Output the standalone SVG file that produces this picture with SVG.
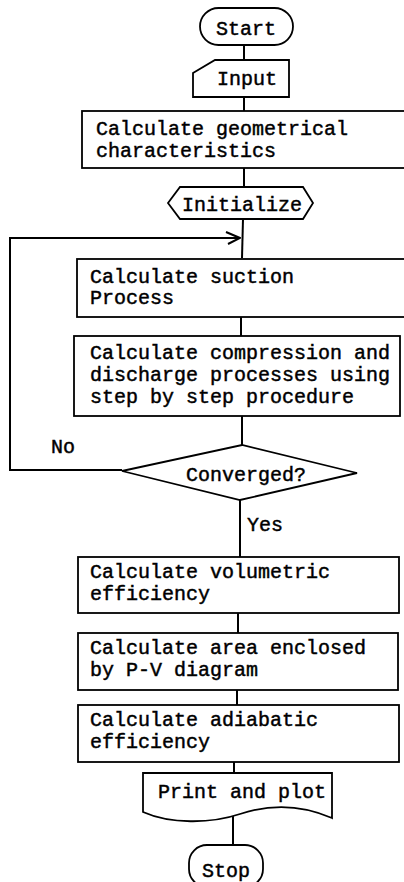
<svg xmlns="http://www.w3.org/2000/svg" width="404" height="882" viewBox="0 0 404 882">
<style>
.shape{fill:#fff;stroke:#000;stroke-width:1.8}
.line{fill:none;stroke:#000;stroke-width:2}
text{font-family:"Liberation Mono","DejaVu Sans Mono",monospace;font-size:20px;fill:#000;stroke:#000;stroke-width:0.45}
.c{text-anchor:middle}
</style>
<defs>
<marker id="open" viewBox="0 0 16 14" refX="15" refY="7" markerWidth="16" markerHeight="14" markerUnits="userSpaceOnUse" orient="auto">
<path d="M1,1 L15,7 L3,13" fill="none" stroke="#000" stroke-width="2"/>
</marker>
</defs>
<rect width="404" height="882" fill="#fff"/>
<g id="connectors">
<line class="line" x1="244" y1="45" x2="244" y2="60"/>
<line class="line" x1="244" y1="97" x2="244" y2="111"/>
<line class="line" x1="244" y1="168" x2="244" y2="187"/>
<line class="line" x1="243" y1="219" x2="242" y2="258"/>
<line class="line" x1="241" y1="317" x2="241" y2="336"/>
<line class="line" x1="242" y1="416" x2="242" y2="445"/>
<line class="line" x1="240" y1="500" x2="240" y2="557"/>
<line class="line" x1="238" y1="613" x2="238" y2="633"/>
<line class="line" x1="237" y1="690" x2="237" y2="705"/>
<line class="line" x1="234" y1="762" x2="234" y2="773"/>
<line class="line" x1="233" y1="815" x2="233" y2="845"/>
<polyline class="line" points="122,470 10,470 10,238 240,238" marker-end="url(#open)"/>
<text x="51" y="453">No</text>
<text x="247" y="531">Yes</text>
</g>
<g id="start">
<rect class="shape" x="200" y="8" width="93" height="37" rx="18.5"/>
<text class="c" x="246" y="35">Start</text>
</g>
<g id="input">
<path class="shape" d="M215,60 L289,60 L289,97 L193,97 L193,73 Z"/>
<text class="c" x="247" y="85">Input</text>
</g>
<g id="geom">
<rect class="shape" x="82" y="111" width="330" height="57"/>
<text x="96" y="135">Calculate geometrical</text>
<text x="96" y="157">characteristics</text>
</g>
<g id="initialize">
<path class="shape" d="M168,203 L180,187 L303,187 L313,203 L303,219 L180,219 Z"/>
<text class="c" x="242" y="211">Initialize</text>
</g>
<g id="suction">
<rect class="shape" x="77" y="259" width="335" height="58"/>
<text x="90" y="283">Calculate suction</text>
<text x="90" y="304">Process</text>
</g>
<g id="compression">
<rect class="shape" x="74" y="336" width="326" height="80"/>
<text x="90" y="359">Calculate compression and</text>
<text x="90" y="381">discharge processes using</text>
<text x="90" y="403">step by step procedure</text>
</g>
<g id="converged">
<path class="shape" d="M122,471 L242,445 L357,473 L240,500 Z"/>
<text class="c" x="246" y="481">Converged?</text>
</g>
<g id="volumetric">
<rect class="shape" x="78" y="557" width="321" height="56"/>
<text x="90" y="578">Calculate volumetric</text>
<text x="90" y="600">efficiency</text>
</g>
<g id="area">
<rect class="shape" x="78" y="633" width="320" height="57"/>
<text x="90" y="654">Calculate area enclosed</text>
<text x="90" y="676">by P-V diagram</text>
</g>
<g id="adiabatic">
<rect class="shape" x="78" y="705" width="321" height="57"/>
<text x="90" y="726">Calculate adiabatic</text>
<text x="90" y="748">efficiency</text>
</g>
<g id="print">
<path class="shape" d="M143,773 L332,773 L332,818 C300,804 270,804 240,814 C210,824 170,824 143,812 Z"/>
<text class="c" x="242" y="798">Print and plot</text>
</g>
<g id="stop">
<rect class="shape" x="189" y="845" width="74" height="42" rx="18"/>
<text class="c" x="226" y="877">Stop</text>
</g>
</svg>
